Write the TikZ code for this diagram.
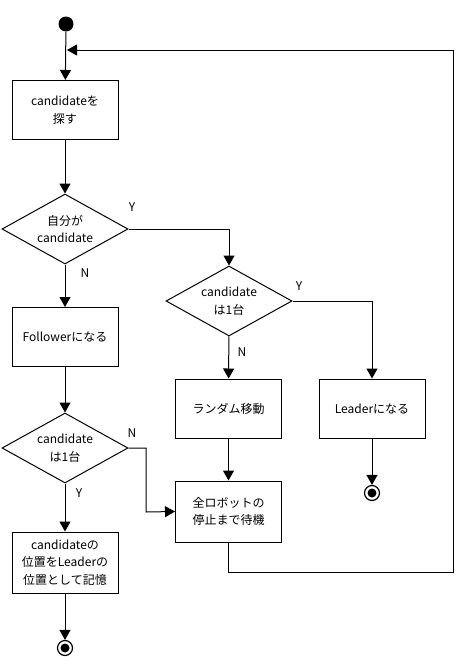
\documentclass[tikz,border=0pt]{standalone}
\usepackage{fontspec}
\setmainfont{Noto Sans CJK JP}
\usetikzlibrary{shapes.geometric,arrows.meta}
\begin{document}
\begin{tikzpicture}[x=1pt,y=-1pt,line width=1pt,
  stepbox/.style={draw,rectangle,minimum width=106pt,minimum height=59pt,align=center,inner sep=1pt,font=\fontsize{12}{17.5}\selectfont},
  decision/.style={draw,diamond,minimum width=126pt,minimum height=70pt,aspect=1.8,inner sep=0pt,align=center,font=\fontsize{12}{17.5}\selectfont},
  arr/.style={-{Triangle[width=11pt,length=10pt]}},
  lbl/.style={font=\fontsize{12}{14}\selectfont,inner sep=0pt},
  startdot/.style={circle,fill,minimum size=15pt,inner sep=0pt},
  enddot/.style={circle,draw,line width=1.2pt,minimum size=15pt,inner sep=0pt,path picture={\fill (path picture bounding box.center) circle (4.5pt);}}]
\useasboundingbox (0,0) rectangle (459,665);
\node[startdot] (start) at (66,24) {};
\node[stepbox] (search) at (65,110) {candidateを\\探す};
\node[decision] (self) at (65,229) {自分が\\candidate};
\node[stepbox] (follower) at (65,337) {Followerになる};
\node[decision] (one2) at (65,448) {candidate\\は1台};
\node[stepbox,minimum height=61pt] (store) at (65,562.5) {candidateの\\位置をLeaderの\\位置として記憶};
\node[enddot] (end1) at (65,648) {};
\node[decision] (one1) at (229,301) {candidate\\は1台};
\node[stepbox] (random) at (228.5,408.5) {ランダム移動};
\node[stepbox] (leader) at (372,408.5) {Leaderになる};
\node[enddot] (end2) at (372,493) {};
\node[stepbox,minimum height=61pt] (wait) at (228.5,511.5) {全ロボットの\\停止まで待機};
\coordinate (c1) at (228.5,572);
\coordinate (c2) at (453,572);
\coordinate (c3) at (453,50);
\coordinate (loopt) at (67,50);
\coordinate (nb) at (146,448);
\coordinate (nb2) at (146,512);
% connectors
\draw[arr] (start) -- (search);
\draw[arr] (search) -- (self);
\draw[arr] (self) -- (follower);
\draw[arr] (follower) -- (one2);
\draw[arr] (one2) -- (store);
\draw[arr] (store) -- (end1);
\draw[arr] (self.east) -| (one1.north);
\draw[arr] (one1) -- (random);
\draw[arr] (one1.east) -| (leader.north);
\draw[arr] (leader) -- (end2);
\draw[arr] (random) -- (wait);
\draw[arr] (one2.east) -- (nb) -- (nb2) -- (wait.west);
\draw[arr] (wait.south) -- (c1) -- (c2) -- (c3) -- (loopt);
% labels
\node[lbl] at (132,207) {Y};
\node[lbl] at (85,273) {N};
\node[lbl] at (299,286) {Y};
\node[lbl] at (242,352) {N};
\node[lbl] at (132,433) {N};
\node[lbl] at (79,493) {Y};
\end{tikzpicture}
\end{document}
